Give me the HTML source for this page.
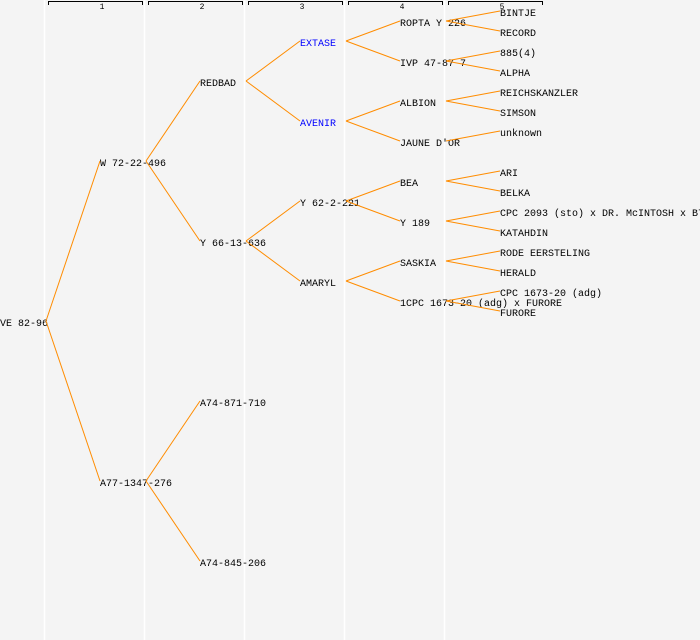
<!DOCTYPE html>
<html><head><meta charset="utf-8"><style>
html,body{margin:0;padding:0;background:#f4f4f4;}
svg{display:block;}
text{font-family:"Liberation Mono","DejaVu Sans Mono",monospace;font-size:10px;fill:#000;}
.n{font-size:8px;}
.b{fill:#0000ff;}
</style></head><body>
<svg width="700" height="640" xmlns="http://www.w3.org/2000/svg">
<rect width="700" height="640" fill="#f4f4f4"/>
<g stroke="#ffffff" stroke-width="1.5">
<line x1="44.5" y1="0" x2="44.5" y2="640"/><line x1="144.5" y1="0" x2="144.5" y2="640"/>
<line x1="244.5" y1="0" x2="244.5" y2="640"/><line x1="344.5" y1="0" x2="344.5" y2="640"/>
<line x1="444.5" y1="0" x2="444.5" y2="640"/>
</g>
<g stroke="#000" stroke-width="1" fill="none">
<path d="M48.5 5V1.5H142.5V5"/><path d="M148.5 5V1.5H242.5V5"/><path d="M248.5 5V1.5H342.5V5"/><path d="M348.5 5V1.5H442.5V5"/><path d="M448.5 5V1.5H542.5V5"/>
</g>
<g text-anchor="middle">
<text class="n" x="102" y="9">1</text><text class="n" x="202" y="9">2</text><text class="n" x="302" y="9">3</text><text class="n" x="402" y="9">4</text><text class="n" x="502" y="9">5</text>
</g>
<text x="0" y="326">VE 82-96</text>
<text x="100" y="166">W 72-22-496</text>
<text x="100" y="486">A77-1347-276</text>
<text x="200" y="86">REDBAD</text>
<text x="200" y="246">Y 66-13-636</text>
<text x="200" y="406">A74-871-710</text>
<text x="200" y="566">A74-845-206</text>
<text class="b" x="300" y="46">EXTASE</text>
<text class="b" x="300" y="126">AVENIR</text>
<text x="300" y="206">Y 62-2-221</text>
<text x="300" y="286">AMARYL</text>
<text x="400" y="26">ROPTA Y 226</text>
<text x="400" y="66">IVP 47-87 7</text>
<text x="400" y="106">ALBION</text>
<text x="400" y="146">JAUNE D'OR</text>
<text x="400" y="186">BEA</text>
<text x="400" y="226">Y 189</text>
<text x="400" y="266">SASKIA</text>
<text x="400" y="306">1CPC 1673-20 (adg) x FURORE</text>
<text x="500" y="16">BINTJE</text>
<text x="500" y="36">RECORD</text>
<text x="500" y="56">885(4)</text>
<text x="500" y="76">ALPHA</text>
<text x="500" y="96">REICHSKANZLER</text>
<text x="500" y="116">SIMSON</text>
<text x="500" y="136">unknown</text>
<text x="500" y="176">ARI</text>
<text x="500" y="196">BELKA</text>
<text x="500" y="216">CPC 2093 (sto) x DR. McINTOSH x B7</text>
<text x="500" y="236">KATAHDIN</text>
<text x="500" y="256">RODE EERSTELING</text>
<text x="500" y="276">HERALD</text>
<text x="500" y="296">CPC 1673-20 (adg)</text>
<text x="500" y="316">FURORE</text>
<g stroke="#ff8c00" stroke-width="1">
<line x1="46" y1="321" x2="100" y2="161"/><line x1="46" y1="321" x2="100" y2="481"/>
<line x1="146" y1="161" x2="200" y2="81"/><line x1="146" y1="161" x2="200" y2="241"/>
<line x1="146" y1="481" x2="200" y2="401"/><line x1="146" y1="481" x2="200" y2="561"/>
<line x1="246" y1="81" x2="300" y2="41"/><line x1="246" y1="81" x2="300" y2="121"/>
<line x1="246" y1="241" x2="300" y2="201"/><line x1="246" y1="241" x2="300" y2="281"/>
<line x1="346" y1="41" x2="400" y2="21"/><line x1="346" y1="41" x2="400" y2="61"/>
<line x1="346" y1="121" x2="400" y2="101"/><line x1="346" y1="121" x2="400" y2="141"/>
<line x1="346" y1="201" x2="400" y2="181"/><line x1="346" y1="201" x2="400" y2="221"/>
<line x1="346" y1="281" x2="400" y2="261"/><line x1="346" y1="281" x2="400" y2="301"/>
<line x1="446" y1="21" x2="500" y2="11"/><line x1="446" y1="21" x2="500" y2="31"/>
<line x1="446" y1="61" x2="500" y2="51"/><line x1="446" y1="61" x2="500" y2="71"/>
<line x1="446" y1="101" x2="500" y2="91"/><line x1="446" y1="101" x2="500" y2="111"/>
<line x1="446" y1="141" x2="500" y2="131"/>
<line x1="446" y1="181" x2="500" y2="171"/><line x1="446" y1="181" x2="500" y2="191"/>
<line x1="446" y1="221" x2="500" y2="211"/><line x1="446" y1="221" x2="500" y2="231"/>
<line x1="446" y1="261" x2="500" y2="251"/><line x1="446" y1="261" x2="500" y2="271"/>
<line x1="446" y1="301" x2="500" y2="291"/><line x1="446" y1="301" x2="500" y2="311"/>
</g>
</svg>
</body></html>
